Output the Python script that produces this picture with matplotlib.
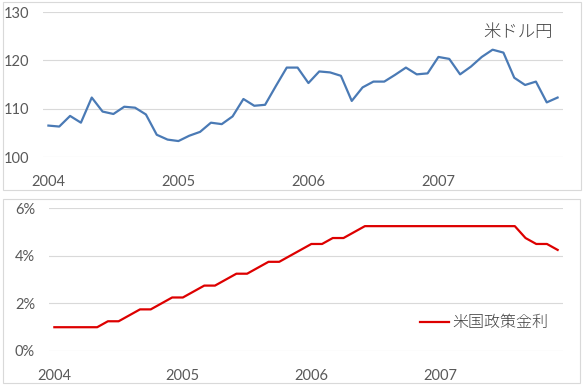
import matplotlib
matplotlib.use("Agg")
import matplotlib.pyplot as plt
from matplotlib.patches import Rectangle

plt.rcParams["font.family"] = ["Lato", "Noto Sans CJK JP", "DejaVu Sans"]

# monthly data, Jan 2004 - Dec 2007
year_labels = ["2004", "2005", "2006", "2007"]

usdjpy = [
    106.5, 106.3, 108.5, 107.1, 112.3, 109.4, 108.9, 110.4, 110.2, 108.8, 104.6, 103.6,
    103.3, 104.4, 105.2, 107.1, 106.8, 108.4, 112.0, 110.6, 110.8, 114.7, 118.5, 118.5,
    115.3, 117.7, 117.5, 116.8, 111.6, 114.4, 115.6, 115.6, 117.0, 118.5, 117.1, 117.3,
    120.7, 120.3, 117.1, 118.7, 120.7, 122.2, 121.6, 116.4, 114.9, 115.6, 111.3, 112.3,
]

fed_rate = [
    1.00, 1.00, 1.00, 1.00, 1.00, 1.25, 1.25, 1.50, 1.75, 1.75, 2.00, 2.25,
    2.25, 2.50, 2.75, 2.75, 3.00, 3.25, 3.25, 3.50, 3.75, 3.75, 4.00, 4.25,
    4.50, 4.50, 4.75, 4.75, 5.00, 5.25, 5.25, 5.25, 5.25, 5.25, 5.25, 5.25,
    5.25, 5.25, 5.25, 5.25, 5.25, 5.25, 5.25, 5.25, 4.75, 4.50, 4.50, 4.25,
]

months = list(range(len(usdjpy)))
tick_pos = [0, 12, 24, 36]

text_col = "#595959"
grid_col = "#d9d9d9"
cjk = ["Noto Sans CJK JP", "DejaVu Sans"]
W, H = 585, 388

fig = plt.figure(figsize=(5.85, 3.88), dpi=100)

# chart area borders
fig.patches.append(Rectangle((3 / W, (H - 190) / H), 578 / W, 188 / H,
                             transform=fig.transFigure, fill=False,
                             edgecolor=grid_col, linewidth=0.8))
fig.patches.append(Rectangle((3 / W, (H - 383) / H), 577 / W, 184 / H,
                             transform=fig.transFigure, fill=False,
                             edgecolor=grid_col, linewidth=0.8))

ax1 = fig.add_axes([43 / W, (H - 157) / H, 520 / W, 145 / H])
ax2 = fig.add_axes([49 / W, (H - 351) / H, 514 / W, 142.7 / H])

# top: USD/JPY
ax1.plot(months, usdjpy, color="#4a7ab5", linewidth=1.6)
ax1.set_ylim(100, 130)
ax1.set_yticks([100, 110, 120, 130])
fig.text(553 / W, (H - 32) / H, "米ドル円", ha="right", va="center",
         fontsize=12.5, color="#404040", family=cjk, fontweight="light")

# bottom: US policy rate
ax2.plot(months, fed_rate, color="#dd0000", linewidth=1.6, label="米国政策金利")
ax2.set_ylim(0, 6)
ax2.set_yticks([0, 2, 4, 6])
ax2.set_yticklabels(["0%", "2%", "4%", "6%"])
leg = ax2.legend(loc="center left", bbox_to_anchor=(420 / W, (H - 323) / H),
                 bbox_transform=fig.transFigure, frameon=False,
                 handlelength=1.8, handletextpad=0.25, borderpad=0, borderaxespad=0,
                 prop={"family": cjk, "size": 11.5, "weight": "light"})
for t in leg.get_texts():
    t.set_color("#404040")

for ax in (ax1, ax2):
    ax.set_xlim(-0.5, 47.5)
    ax.set_xticks(tick_pos)
    ax.set_xticklabels(year_labels)
    ax.grid(axis="y", color=grid_col, linewidth=0.8)
    ax.set_axisbelow(True)
    for s in ax.spines.values():
        s.set_visible(False)
    ax.tick_params(length=0, labelsize=10.5, labelcolor=text_col)
    ax.tick_params(axis="x", pad=13)
    ax.tick_params(axis="y", pad=10)

fig.savefig("out.png", dpi=100)
